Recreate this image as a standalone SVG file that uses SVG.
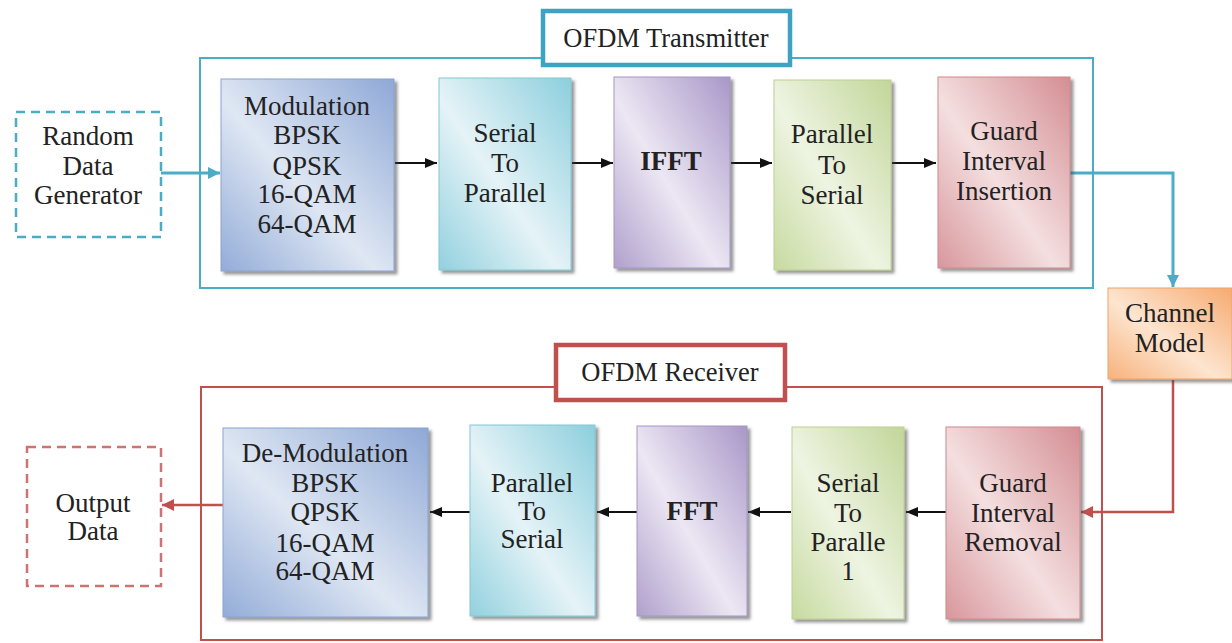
<svg xmlns="http://www.w3.org/2000/svg" width="1232" height="643" viewBox="0 0 1232 643">
<defs>
<style>
text{font-family:'Liberation Serif','DejaVu Serif',serif;font-size:27px;fill:#222;text-anchor:middle}
.t{font-size:26.5px}
.b{font-weight:bold}
.frameT{fill:none;stroke:#4bacc6;stroke-width:2}
.frameR{fill:none;stroke:#c0504d;stroke-width:2}
.titleT{fill:#fff;stroke:#3ea3c2;stroke-width:4.5}
.titleR{fill:#fff;stroke:#c0504d;stroke-width:4.5}
.dashT{fill:#fff;stroke:#4bacc6;stroke-width:2.5;stroke-dasharray:9 6}
.dashR{fill:#fff;stroke:#c0504d;stroke-width:2.5;stroke-dasharray:9 6;stroke-opacity:.8}
.blk{fill:none;stroke:#111;stroke-width:2;marker-end:url(#ak)}
.tc{fill:none;stroke:#4bacc6;stroke-width:3;marker-end:url(#at)}
.rc{fill:none;stroke:#c0504d;stroke-width:2.5;marker-end:url(#ar)}
.box{filter:url(#sh)}
</style>
<filter id="sh" x="-10%" y="-10%" width="125%" height="125%">
<feDropShadow dx="3" dy="3" stdDeviation="1.5" flood-color="#444" flood-opacity="0.55"/>
</filter>
<linearGradient id="gBlue" x1="1" y1="0" x2="0" y2="1"><stop offset="0" stop-color="#8ea8d6"/><stop offset="0.55" stop-color="#dfe7f3"/><stop offset="1" stop-color="#93acd8"/></linearGradient>
<linearGradient id="gTeal" x1="1" y1="0" x2="0" y2="1"><stop offset="0" stop-color="#8ccfdd"/><stop offset="0.55" stop-color="#e5f3f7"/><stop offset="1" stop-color="#92d1de"/></linearGradient>
<linearGradient id="gPurp" x1="1" y1="0" x2="0" y2="1"><stop offset="0" stop-color="#a997c8"/><stop offset="0.55" stop-color="#ece7f3"/><stop offset="1" stop-color="#b0a0cc"/></linearGradient>
<linearGradient id="gGreen" x1="1" y1="0" x2="0" y2="1"><stop offset="0" stop-color="#c2d699"/><stop offset="0.55" stop-color="#eef4e2"/><stop offset="1" stop-color="#c7da9f"/></linearGradient>
<linearGradient id="gRed" x1="1" y1="0" x2="0" y2="1"><stop offset="0" stop-color="#d48e93"/><stop offset="0.55" stop-color="#f4dfe0"/><stop offset="1" stop-color="#d8979c"/></linearGradient>
<linearGradient id="gOrange" x1="1" y1="0" x2="0" y2="1"><stop offset="0" stop-color="#f6aa70"/><stop offset="0.55" stop-color="#fde5d0"/><stop offset="1" stop-color="#f7b27c"/></linearGradient>
<marker id="ak" markerUnits="userSpaceOnUse" viewBox="0 0 12 10" markerWidth="12" markerHeight="10" refX="12" refY="5" orient="auto"><path d="M0,0 L12,5 L0,10 z" fill="#111"/></marker>
<marker id="at" markerUnits="userSpaceOnUse" viewBox="0 0 12 12" markerWidth="12" markerHeight="12" refX="12" refY="6" orient="auto"><path d="M0,0 L12,6 L0,12 z" fill="#4bacc6"/></marker>
<marker id="ar" markerUnits="userSpaceOnUse" viewBox="0 0 12 12" markerWidth="12" markerHeight="12" refX="12" refY="6" orient="auto"><path d="M0,0 L12,6 L0,12 z" fill="#c0504d"/></marker>
</defs>
<rect width="1232" height="643" fill="#fff"/>

<g id="transmitter-frame">
<rect class="frameT" x="200" y="58" width="893" height="230"/>
<rect class="titleT" x="543" y="11" width="247" height="54"/>
<text class="t" x="666" y="47">OFDM Transmitter</text>
</g>
<g id="receiver-frame">
<rect class="frameR" x="201" y="387" width="901" height="253"/>
<rect class="titleR" x="556" y="345" width="229" height="55"/>
<text class="t" x="670" y="381">OFDM Receiver</text>
</g>

<g id="connectors">
<path class="tc" d="M161,173 H220"/>
<path class="blk" d="M395,163 H437"/>
<path class="blk" d="M572,163 H613"/>
<path class="blk" d="M731,163 H772"/>
<path class="blk" d="M892,163 H936"/>
<path class="tc" d="M1070,173 H1173 V287"/>
<path class="rc" d="M1173,380 V512 H1081"/>
<path class="blk" d="M946,512 H906"/>
<path class="blk" d="M791,512 H748"/>
<path class="blk" d="M637,512 H597"/>
<path class="blk" d="M470,512 H430"/>
<path class="rc" d="M223,505 H162"/>
</g>

<g id="random-data-generator">
<rect class="dashT" x="16" y="112" width="145" height="125"/>
<text x="88" y="145">Random</text>
<text x="88" y="175">Data</text>
<text x="88" y="204">Generator</text>
</g>
<g id="modulation">
<rect class="box" x="221" y="79" width="173" height="192" fill="url(#gBlue)" stroke="#8aa3cf" stroke-width="1"/>
<text x="307" y="115">Modulation</text>
<text x="307" y="144">BPSK</text>
<text x="307" y="175">QPSK</text>
<text x="307" y="203">16-QAM</text>
<text x="307" y="233">64-QAM</text>
</g>
<g id="serial-to-parallel-tx">
<rect class="box" x="439" y="78" width="132" height="192" fill="url(#gTeal)" stroke="#86c6d4" stroke-width="1"/>
<text x="505" y="142">Serial</text>
<text x="505" y="172">To</text>
<text x="505" y="202">Parallel</text>
</g>
<g id="ifft">
<rect class="box" x="614" y="77" width="116" height="191" fill="url(#gPurp)" stroke="#a595c4" stroke-width="1"/>
<text class="b" x="671" y="170">IFFT</text>
</g>
<g id="parallel-to-serial-tx">
<rect class="box" x="774" y="80" width="117" height="190" fill="url(#gGreen)" stroke="#bccf92" stroke-width="1"/>
<text x="832" y="143">Parallel</text>
<text x="832" y="174">To</text>
<text x="832" y="204">Serial</text>
</g>
<g id="guard-interval-insertion">
<rect class="box" x="938" y="77" width="132" height="191" fill="url(#gRed)" stroke="#cf888d" stroke-width="1"/>
<text x="1004" y="140">Guard</text>
<text x="1004" y="170">Interval</text>
<text x="1004" y="200">Insertion</text>
</g>
<g id="channel-model">
<rect class="box" x="1108" y="288" width="124" height="91" fill="url(#gOrange)" stroke="#f0a36a" stroke-width="1"/>
<text x="1170" y="322">Channel</text>
<text x="1170" y="352">Model</text>
</g>
<g id="guard-interval-removal">
<rect class="box" x="946" y="427" width="134" height="192" fill="url(#gRed)" stroke="#cf888d" stroke-width="1"/>
<text x="1013" y="492">Guard</text>
<text x="1013" y="522">Interval</text>
<text x="1013" y="551">Removal</text>
</g>
<g id="serial-to-parallel-rx">
<rect class="box" x="792" y="427" width="112" height="192" fill="url(#gGreen)" stroke="#bccf92" stroke-width="1"/>
<text x="848" y="492">Serial</text>
<text x="848" y="522">To</text>
<text x="848" y="551">Paralle</text>
<text x="848" y="580">1</text>
</g>
<g id="fft">
<rect class="box" x="637" y="426" width="110" height="190" fill="url(#gPurp)" stroke="#a595c4" stroke-width="1"/>
<text class="b" x="692" y="520">FFT</text>
</g>
<g id="parallel-to-serial-rx">
<rect class="box" x="470" y="425" width="125" height="191" fill="url(#gTeal)" stroke="#86c6d4" stroke-width="1"/>
<text x="532" y="492">Parallel</text>
<text x="532" y="520">To</text>
<text x="532" y="548">Serial</text>
</g>
<g id="de-modulation">
<rect class="box" x="223" y="428" width="205" height="189" fill="url(#gBlue)" stroke="#8aa3cf" stroke-width="1"/>
<text x="325" y="462">De-Modulation</text>
<text x="325" y="492">BPSK</text>
<text x="325" y="521">QPSK</text>
<text x="325" y="552">16-QAM</text>
<text x="325" y="580">64-QAM</text>
</g>
<g id="output-data">
<rect class="dashR" x="27" y="447" width="134" height="139"/>
<text x="93" y="512">Output</text>
<text x="93" y="540">Data</text>
</g>
</svg>
